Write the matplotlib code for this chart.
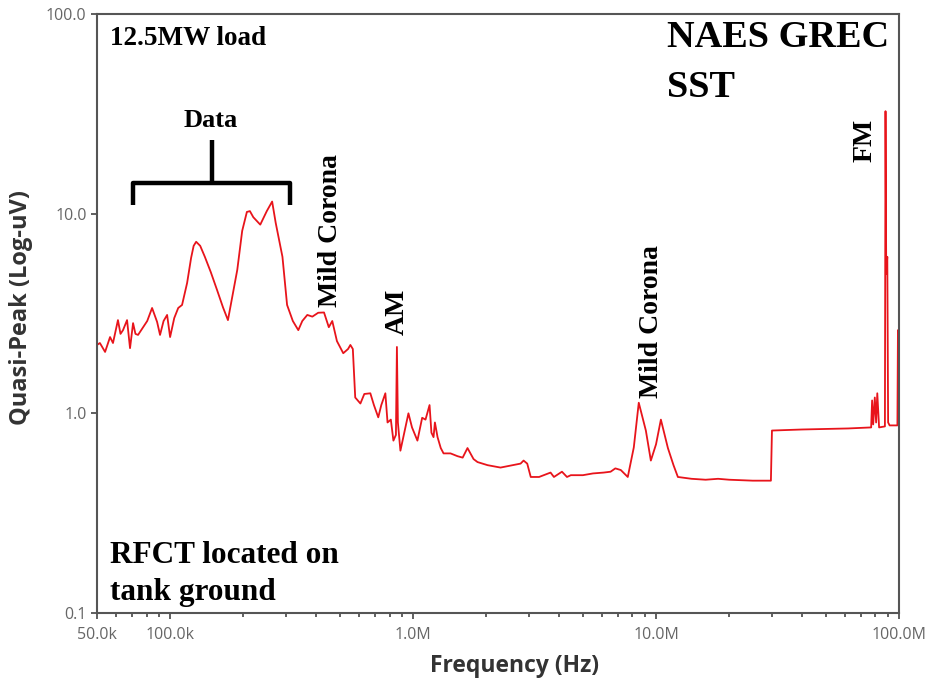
import matplotlib
matplotlib.use('Agg')
import numpy as np
from matplotlib import pyplot as plt
from matplotlib.ticker import FixedLocator, LogLocator, NullLocator, NullFormatter

# spectrum: frequency (Hz) / quasi-peak (uV)
freq = [50.0e3, 51.4e3, 54.0e3, 56.6e3, 58.2e3, 61.0e3, 62.5e3, 64.0e3, 66.5e3, 68.4e3,
        70.4e3, 72.0e3, 73.8e3, 77.4e3, 80.5e3, 84.3e3, 88.4e3, 90.9e3, 94.0e3, 97.2e3,
        100e3, 104e3, 108e3, 112e3, 117.5e3, 122e3, 125e3, 128e3, 133e3, 139e3,
        147e3, 156e3, 165e3, 173e3, 180e3, 189e3, 198e3, 207e3, 213e3, 220e3,
        235e3, 250e3, 263e3, 272e3, 290e3, 303e3, 320e3, 337e3, 350e3, 367e3,
        385e3, 407e3, 430e3, 450e3, 465e3, 486e3, 516e3, 540e3, 552e3, 565e3,
        578e3, 607e3, 630e3, 667e3, 690e3, 719e3, 740e3, 769e3, 785e3, 810e3,
        830e3, 850e3, 858e3, 866e3, 887e3, 920e3, 957e3, 990e3, 1.042e6, 1.09e6,
        1.125e6, 1.169e6, 1.19e6, 1.214e6, 1.23e6, 1.261e6, 1.30e6, 1.335e6, 1.426e6, 1.524e6,
        1.60e6, 1.675e6, 1.774e6, 1.842e6, 2.026e6, 2.29e6, 2.77e6, 2.85e6, 2.95e6, 3.05e6,
        3.3e6, 3.68e6, 3.8e6, 4.1e6, 4.3e6, 4.46e6, 5.0e6, 5.5e6, 6.09e6, 6.5e6,
        6.8e6, 7.16e6, 7.65e6, 8.10e6, 8.49e6, 8.8e6, 9.08e6, 9.52e6, 10.0e6, 10.47e6,
        10.8e6, 11.19e6, 11.8e6, 12.3e6, 14e6, 16e6, 18e6, 20e6, 25e6, 29.7e6,
        30.0e6, 40e6, 50e6, 61.8e6, 76.8e6, 77.5e6, 78.3e6, 79.5e6, 80.5e6, 81.4e6,
        82.8e6, 87.5e6, 88.0e6, 88.6e6, 89.5e6, 90.2e6, 91.5e6, 98.5e6, 99.0e6, 99.5e6,
        100e6]
qpeak = [2.2, 2.25, 2.03, 2.41, 2.25, 2.93, 2.5, 2.61, 2.93, 2.12,
         2.83, 2.5, 2.47, 2.70, 2.9, 3.37, 2.87, 2.47, 2.9, 3.11,
         2.41, 3.0, 3.37, 3.49, 4.5, 6.0, 6.9, 7.23, 6.9, 6.08,
         5.1, 4.15, 3.4, 2.93, 3.8, 5.23, 8.2, 10.2, 10.3, 9.6,
         8.81, 10.3, 11.5, 9.0, 6.08, 3.49, 2.9, 2.61, 2.9, 3.11,
         3.05, 3.19, 3.2, 2.7, 2.9, 2.3, 2.0, 2.1, 2.2, 2.1,
         1.2, 1.12, 1.25, 1.26, 1.1, 0.955, 1.1, 1.26, 0.9, 0.93,
         0.73, 0.78, 2.15, 0.9, 0.65, 0.8, 1.0, 0.85, 0.73, 0.95,
         0.93, 1.1, 0.8, 0.76, 0.9, 0.76, 0.67, 0.63, 0.63, 0.61,
         0.6, 0.67, 0.59, 0.57, 0.55, 0.535, 0.56, 0.58, 0.56, 0.48,
         0.48, 0.505, 0.48, 0.51, 0.48, 0.49, 0.49, 0.5, 0.505, 0.51,
         0.53, 0.52, 0.48, 0.675, 1.13, 0.95, 0.82, 0.58, 0.7, 0.93,
         0.8, 0.67, 0.55, 0.48, 0.47, 0.465, 0.47, 0.465, 0.46, 0.46,
         0.82, 0.83, 0.835, 0.84, 0.85, 1.16, 0.88, 1.2, 0.9, 1.26,
         0.85, 0.86, 32.6, 5.0, 6.08, 0.9, 0.87, 0.87, 2.61, 0.88,
         0.88]

xticks = [5e4, 1e5, 1e6, 1e7, 1e8]
xtick_labels = ['50.0k', '100.0k', '1.0M', '10.0M', '100.0M']
yticks = [0.1, 1, 10, 100]
ytick_labels = ['0.1', '1.0', '10.0', '100.0']

serif = 'Liberation Serif'
sans = 'Open Sans'

fig = plt.figure(figsize=(9.27, 6.83), dpi=100)
ax = fig.add_axes([0.1046, 0.1025, 0.8652, 0.877])

ax.plot(freq, qpeak, color='#e8141b', lw=1.3)

ax.set_xscale('log')
ax.set_yscale('log')
ax.set_xlim(5e4, 1e8)
ax.set_ylim(0.1, 100)

ax.xaxis.set_major_locator(FixedLocator(xticks))
ax.set_xticklabels(xtick_labels)
ax.xaxis.set_minor_locator(LogLocator(base=10, subs=np.arange(2, 10)))
ax.xaxis.set_minor_formatter(NullFormatter())
ax.yaxis.set_major_locator(FixedLocator(yticks))
ax.set_yticklabels(ytick_labels)
ax.yaxis.set_minor_locator(NullLocator())

ax.tick_params(axis='both', which='major', length=4, width=1.2, color='#444',
               labelsize=11.5, labelcolor='#666')
ax.tick_params(axis='x', which='major', pad=6)
ax.tick_params(axis='x', which='minor', length=3, width=1.2, color='#444')
for lab in ax.get_xticklabels() + ax.get_yticklabels():
    lab.set_family(sans)

for sp in ax.spines.values():
    sp.set_color('#555')
    sp.set_linewidth(1.5)

ax.set_xlabel('Frequency (Hz)', family=sans, fontsize=16.5, fontweight='bold', color='#333')
ax.xaxis.set_label_coords(0.521, -0.068)
ax.set_ylabel('Quasi-Peak (Log-uV)', family=sans, fontsize=17, fontweight='bold', color='#333')
ax.yaxis.set_label_coords(-0.080, 0.51)

tr = ax.transAxes
ax.text(0.0162, 0.948, '12.5MW load', transform=tr, family=serif, fontweight='bold',
        fontsize=19.5, va='baseline', ha='left')
ax.text(0.711, 0.945, 'NAES GREC', transform=tr, family=serif, fontweight='bold',
        fontsize=27.5, va='baseline', ha='left')
ax.text(0.711, 0.861, 'SST', transform=tr, family=serif, fontweight='bold',
        fontsize=27.5, va='baseline', ha='left')
ax.text(0.0162, 0.0835, 'RFCT located on', transform=tr, family=serif, fontweight='bold',
        fontsize=22.5, va='baseline', ha='left')
ax.text(0.0162, 0.0217, 'tank ground', transform=tr, family=serif, fontweight='bold',
        fontsize=22.5, va='baseline', ha='left')
ax.text(0.142, 0.811, 'Data', transform=tr, family=serif, fontweight='bold',
        fontsize=19, va='baseline', ha='center')

# bracket over the data bumps
ax.plot([0.0449, 0.0449, 0.2406, 0.2406], [0.681, 0.7179, 0.7179, 0.681],
        transform=tr, color='black', lw=3.2, solid_joinstyle='round', solid_capstyle='butt')
ax.plot([0.1434, 0.1434], [0.7179, 0.7896], transform=tr, color='black', lw=3.2,
        solid_capstyle='butt')

# vertical annotations
for txt, x, y in [('Mild Corona', 0.2918, 0.511), ('AM', 0.374, 0.464),
                  ('Mild Corona', 0.691, 0.359), ('FM', 0.9576, 0.753)]:
    ax.text(x, y, txt, transform=tr, family=serif, fontweight='bold', fontsize=20,
            rotation=90, ha='center', va='bottom')

fig.savefig('out.png', dpi=100)
